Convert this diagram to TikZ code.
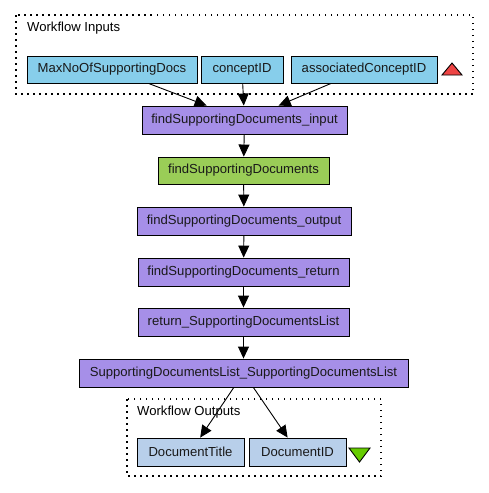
\documentclass[tikz,border=0pt]{standalone}
\usepackage{fontspec}
\setmainfont{Liberation Sans}
\usetikzlibrary{arrows.meta}
\definecolor{inblue}{HTML}{87CEEB}
\definecolor{procpurple}{HTML}{A68FE8}
\definecolor{procgreen}{HTML}{9ACD57}
\definecolor{outblue}{HTML}{B8CFEA}
\definecolor{trired}{HTML}{EE4444}
\definecolor{trigreen}{HTML}{66CC00}
\tikzset{
  box/.style={draw=black, line width=0.9pt, rectangle, inner sep=0pt, font=\fontsize{13.1}{15}\selectfont, text=black!90},
  inbox/.style={box, fill=inblue},
  pbox/.style={box, fill=procpurple},
  gbox/.style={box, fill=procgreen},
  obox/.style={box, fill=outblue},
  cluster/.style={draw=black, line width=1.2pt, dash pattern=on 1.5pt off 4.5pt},
  clabel/.style={anchor=west, inner sep=0pt, font=\fontsize{13.1}{15}\selectfont},
  edge/.style={draw=black, line width=0.9pt, -{Triangle[length=12pt,width=11pt]}},
}
\begin{document}
\begin{tikzpicture}[x=1pt,y=-1pt]
\useasboundingbox (0,0) rectangle (488,493);
\fill[white] (0,0) rectangle (488,493);
% clusters
\draw[cluster] (16,15) rectangle (473,94);
\node[clabel] (inlabel) at (27,28) {Workflow Inputs};
\draw[cluster] (127,399) rectangle (381,476);
\node[clabel] (outlabel) at (137,412) {Workflow Outputs};
% input nodes
\node[inbox, minimum width=170pt, minimum height=27pt] (max) at (112,69.5) {MaxNoOfSupportingDocs};
\node[inbox, minimum width=82pt, minimum height=27pt] (concept) at (242,69.5) {conceptID};
\node[inbox, minimum width=146pt, minimum height=27pt] (assoc) at (364,69.5) {associatedConceptID};
\draw[fill=trired, line width=0.9pt] (442,75) -- (462,75) -- (452,63) -- cycle;
% chain
\node[pbox, minimum width=205pt, minimum height=28pt] (input) at (244.5,120) {findSupportingDocuments\_input};
\node[gbox, minimum width=171pt, minimum height=27pt] (fsd) at (243.5,170.5) {findSupportingDocuments};
\node[pbox, minimum width=214pt, minimum height=28pt] (out) at (244,221) {findSupportingDocuments\_output};
\node[pbox, minimum width=211pt, minimum height=28pt] (ret) at (243.5,272) {findSupportingDocuments\_return};
\node[pbox, minimum width=211pt, minimum height=28pt] (rsdl) at (243.5,322) {return\_SupportingDocumentsList};
\node[pbox, minimum width=329pt, minimum height=28pt] (sdl) at (243.5,373) {SupportingDocumentsList\_SupportingDocumentsList};
% outputs
\node[obox, minimum width=107pt, minimum height=28pt] (title) at (190.5,452) {DocumentTitle};
\node[obox, minimum width=97pt, minimum height=28pt] (docid) at (297.5,452) {DocumentID};
\draw[fill=trigreen, line width=0.9pt] (349,448) -- (370,448) -- (359.5,462) -- cycle;
% edges
\draw[edge] (max) -- (input);
\draw[edge] (concept) -- (input);
\draw[edge] (assoc) -- (input);
\draw[edge] (input) -- (fsd);
\draw[edge] (fsd) -- (out);
\draw[edge] (out) -- (ret);
\draw[edge] (ret) -- (rsdl);
\draw[edge] (rsdl) -- (sdl);
\draw[edge] (sdl) -- (title);
\draw[edge] (sdl) -- (docid);
\end{tikzpicture}
\end{document}
